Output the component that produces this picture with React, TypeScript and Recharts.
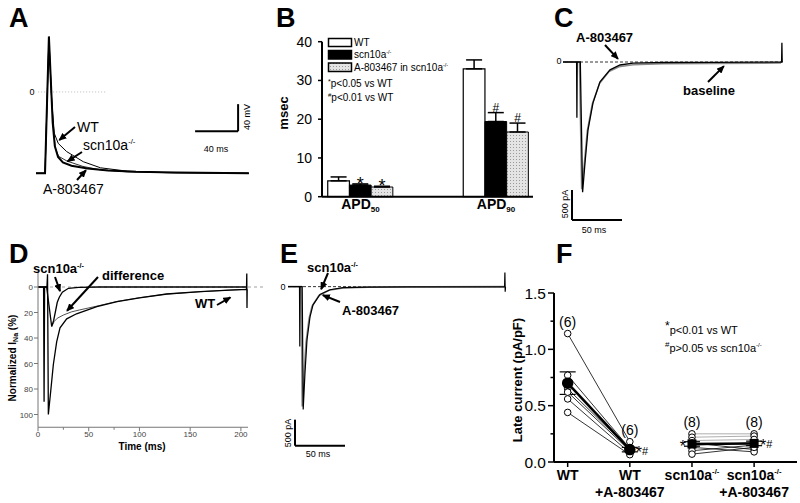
import React from "react";
import {
  LineChart,
  Line,
  XAxis,
  YAxis,
  ReferenceLine,
  ReferenceDot,
  BarChart,
  Bar,
  ErrorBar,
  LabelList,
  ComposedChart,
} from "recharts";

const FONT = "'Liberation Sans', Arial, Helvetica, sans-serif";

// A: action potentials (ms / mV)
const apWtTime = [0, 8.4, 12, 14.6, 17, 20.7, 28.5, 44, 60, 85, 120, 198];
const apWtMv = [-120, -120, 81, -12, -61, -76, -88, -103, -112, -117, -119, -120];
const apScnTime = [0, 8.4, 12, 14, 15.5, 17.5, 20.5, 25, 33, 48, 67, 93, 130, 198];
const apScnMv = [-120, -120, 82, 10, -45, -80, -96, -104, -109, -113, -116, -118, -119, -120];
const apA80Time = [0, 8.4, 12, 14.2, 16, 18, 21, 28.8, 43.7, 60, 85, 130, 198];
const apA80Mv = [-120, -120, 79, 0, -50, -83, -95, -102, -110, -115, -118, -119.5, -120];

// B: APD (msec)
const apdGroups = ["APD50", "APD90"];
const apdWt = [4.1, 33.0];
const apdWtSem = [1.0, 2.3];
const apdScn = [3.0, 19.4];
const apdScnSem = [0.3, 2.3];
const apdA80 = [2.5, 16.7];
const apdA80Sem = [0.2, 2.3];
const apdScnSig = ["*", "#"];
const apdA80Sig = ["*", "#"];

// C: WT late current (ms / pA)
const cA80Time = [0, 13.6, 13.9, 14.2, 17.3, 19.6, 22, 25, 30, 37, 47, 57, 70, 100, 150, 200, 218.6, 218.9, 219.2];
const cA80Pa = [0, 0, -930, 0, 0, -2170, -1680, -1130, -680, -330, -130, -50, -20, -8, -5, -3, 0, 320, 0];
const cBaseTime = [0, 16.5, 18.7, 21.3, 24.3, 29.3, 36.5, 46, 56, 70, 100, 150, 200, 218];
const cBasePa = [0, 0, -2120, -1700, -1150, -700, -360, -160, -80, -45, -30, -25, -20, -15];

// D: normalized INa (%)
const dWtTime = [0, 8.8, 9.4, 10.2, 12.5, 15.1, 18.4, 21.7, 28.3, 38, 58, 78, 100, 127, 160, 189, 205.5, 205.8, 206, 206.2];
const dWtPct = [0, 0, -10, 100, 82, 61, 43, 32, 25, 21, 15.4, 11.5, 8.5, 5.5, 3.7, 2.4, 1.8, -10.5, 16.5, 1.8];
const dScnTime = [0, 5.5, 6, 6.5, 8.5, 13.5, 15.5, 17, 19, 21, 24, 30, 40, 60, 100, 150, 205];
const dScnPct = [0, 0, 90, 0, 0, 31, 26, 20, 12, 8, 4, 1, 0.3, 0, 0, 0, 0];
const dDiffTime = [13.5, 16, 19, 25, 33, 41, 58, 78, 100, 127, 160, 189, 205.5];
const dDiffPct = [31, 27, 24.5, 22, 19.5, 18, 15, 11.3, 8.4, 5.5, 3.7, 2.4, 1.8];

// E: scn10a-/- late current (ms / pA)
const eScnTime = [0, 11.5, 11.8, 12.1, 14.2, 15.2, 17, 19, 22, 25, 32, 42, 55, 80, 120, 160, 200, 216.6, 216.9, 217.2, 217.5];
const eScnPa = [0, 0, -1150, 0, 0, -2360, -1650, -1020, -580, -350, -150, -60, -20, -8, -5, -5, -3, 0, 270, -96, 0];
const eA80Time = [0, 13.2, 14.2, 16, 18, 21, 24, 31, 41, 55, 80, 140, 216];
const eA80Pa = [0, 0, -2300, -1700, -1080, -620, -380, -170, -70, -25, -10, -5, 0];

// F: late current (pA/pF)
const lateCats = ["WT", "WT|+A-803467", "scn10a-/-", "scn10a-/-|+A-803467"];
const lateWt = [1.14, 0.77, 0.65, 0.62, 0.56, 0.44];
const lateWtA80 = [0.18, 0.12, 0.11, 0.1, 0.08, 0.065];
const lateScn = [0.25, 0.22, 0.19, 0.17, 0.15, 0.13, 0.1, 0.07];
const lateScnA80 = [0.25, 0.23, 0.2, 0.11, 0.17, 0.09, 0.15, 0.13];
const lateMean = [0.7, 0.11, 0.16, 0.165];
const lateSem = [0.1, 0.02, 0.02, 0.02];
const lateSig = ["", "*#", "*", "*#"];

const trace = (ts: number[], vs: number[]) => ts.map((t, i) => ({ t, v: vs[i] }));

function supText(s: string, size: number) {
  if (s.endsWith("-/-")) {
    return [
      <tspan key="a">{s.slice(0, -3)}</tspan>,
      <tspan key="b" fontSize={size * 0.55} dy={-size * 0.42}>
        -/-
      </tspan>,
    ];
  }
  return s;
}

const noMargin = { top: 0, right: 0, bottom: 0, left: 0 };

function PanelA() {
  return (
    <div style={{ position: "absolute", left: 36, top: 31 }}>
      <LineChart width={215} height={149} margin={noMargin}>
        <XAxis type="number" dataKey="t" domain={[0, 200]} hide />
        <YAxis type="number" domain={[-130, 90]} hide />
        <ReferenceLine segment={[{ x: 2, y: 0 }, { x: 66, y: 0 }]} stroke="#bbb" strokeDasharray="1 2" />
        <ReferenceLine segment={[{ x: 148, y: -58 }, { x: 188, y: -58 }]} stroke="#000" strokeWidth={2} />
        <ReferenceLine segment={[{ x: 188, y: -58 }, { x: 188, y: -18 }]} stroke="#000" strokeWidth={2} />
        <Line data={trace(apA80Time, apA80Mv)} dataKey="v" stroke="#333" strokeWidth={1} dot={false} isAnimationActive={false} />
        <Line data={trace(apWtTime, apWtMv)} dataKey="v" stroke="#000" strokeWidth={1} dot={false} isAnimationActive={false} />
        <Line data={trace(apScnTime, apScnMv)} dataKey="v" stroke="#000" strokeWidth={2} dot={false} isAnimationActive={false} />
      </LineChart>
    </div>
  );
}

const apdRows = apdGroups.map((g, i) => ({
  pos: i + 1,
  wt: apdWt[i],
  wtE: [0, apdWtSem[i]],
  scn: apdScn[i],
  scnE: [0, apdScnSem[i]],
  scnSig: apdScnSig[i],
  a80: apdA80[i],
  a80E: [0, apdA80Sem[i]],
  a80Sig: apdA80Sig[i],
}));

const B_PX_PER_MSEC = 155 / 40;

function ApdTick(props: any) {
  const { x, y, payload } = props;
  const label = apdGroups[payload.value - 1] || "";
  return (
    <text x={x} y={y + 12} textAnchor="middle" fontFamily={FONT} fontWeight="bold" fontSize={14} fill="#000">
      <tspan>{label.slice(0, 3)}</tspan>
      <tspan fontSize={8} dy={3}>
        {label.slice(3)}
      </tspan>
    </text>
  );
}

const sigAbove = (semKey: "scnE" | "a80E") => (p: any) => {
  const vb = p.viewBox || p;
  const v = p.value;
  if (!v) return null;
  const row = apdRows[p.index];
  const capY = vb.y - (row ? row[semKey][1] : 0) * B_PX_PER_MSEC;
  return (
    <text
      x={vb.x + vb.width / 2}
      y={capY + (v === "*" ? 6 : -1)}
      textAnchor="middle"
      fontFamily={FONT}
      fontSize={v === "*" ? 18 : 12}
      fill="#000"
    >
      {v}
    </text>
  );
};

function PanelB() {
  return (
    <div style={{ position: "absolute", left: 270, top: 30 }}>
      <BarChart width={270} height={200} data={apdRows} margin={{ top: 11.7, right: 7, bottom: 0, left: 0 }} barGap={0}>
        <defs>
          <pattern id="bDots" width="3" height="3" patternUnits="userSpaceOnUse">
            <rect width="3" height="3" fill="#e4e4e4" />
            <rect width="1" height="1" fill="#9a9a9a" />
          </pattern>
        </defs>
        <XAxis
          type="number"
          dataKey="pos"
          domain={[0.716, 2.273]}
          ticks={[1, 2]}
          height={33.3}
          allowDataOverflow
          axisLine={{ stroke: "#000", strokeWidth: 2 }}
          tickLine={false}
          tickSize={0}
          tickMargin={0}
          tick={<ApdTick />}
        />
        <YAxis
          type="number"
          domain={[0, 40]}
          ticks={[0, 10, 20, 30, 40]}
          width={52}
          axisLine={{ stroke: "#000", strokeWidth: 2 }}
          tickLine={{ stroke: "#000", strokeWidth: 1.5 }}
          tickSize={4}
          tickMargin={6}
          tick={{ fontSize: 14, fill: "#000", fontFamily: FONT }}
        />
        <Bar dataKey="wt" fill="#fff" stroke="#000" strokeWidth={1.2} barSize={21.7} isAnimationActive={false}>
          <ErrorBar dataKey="wtE" width={8} stroke="#000" strokeWidth={1.5} direction="y" />
        </Bar>
        <Bar dataKey="scn" fill="#000" stroke="#000" strokeWidth={1} barSize={21.7} isAnimationActive={false}>
          <ErrorBar dataKey="scnE" width={8} stroke="#000" strokeWidth={1.5} direction="y" />
          <LabelList dataKey="scnSig" content={sigAbove("scnE")} />
        </Bar>
        <Bar dataKey="a80" fill="url(#bDots)" stroke="#000" strokeWidth={1} barSize={21.7} isAnimationActive={false}>
          <ErrorBar dataKey="a80E" width={8} stroke="#000" strokeWidth={1.5} direction="y" />
          <LabelList dataKey="a80Sig" content={sigAbove("a80E")} />
        </Bar>
      </BarChart>
    </div>
  );
}

function PanelC() {
  return (
    <div style={{ position: "absolute", left: 563, top: 38 }}>
      <LineChart width={225} height={186} margin={noMargin}>
        <XAxis type="number" dataKey="t" domain={[0, 225]} hide />
        <YAxis type="number" domain={[-2700, 400]} hide />
        <ReferenceLine segment={[{ x: 2, y: 0 }, { x: 222, y: 0 }]} stroke="#000" strokeWidth={0.8} strokeDasharray="3 2" />
        <ReferenceLine segment={[{ x: 9, y: -2633 }, { x: 59, y: -2633 }]} stroke="#000" strokeWidth={2} />
        <ReferenceLine segment={[{ x: 9, y: -2633 }, { x: 9, y: -2133 }]} stroke="#000" strokeWidth={2} />
        <Line data={trace(cBaseTime, cBasePa)} dataKey="v" stroke="#8a8a8a" strokeWidth={1.6} dot={false} isAnimationActive={false} />
        <Line data={trace(cA80Time, cA80Pa)} dataKey="v" stroke="#000" strokeWidth={1.3} dot={false} isAnimationActive={false} />
      </LineChart>
    </div>
  );
}

function DYTick({ x, y, payload }: any) {
  const v = payload.value;
  const major = v % 20 === 0;
  return (
    <g>
      <line x1={x} x2={x - (major ? 4 : 2.5)} y1={y} y2={y} stroke="#777" strokeWidth={1} />
      {major && (
        <text x={x - 5} y={y + 3} textAnchor="end" fontSize={8} fill="#444" fontFamily={FONT}>
          {v}
        </text>
      )}
    </g>
  );
}

function DXTick({ x, y, payload }: any) {
  const v = payload.value;
  const major = v % 50 === 0;
  return (
    <g>
      <line x1={x} x2={x} y1={y} y2={y + (major ? 4 : 2.5)} stroke="#777" strokeWidth={1} />
      {major && (
        <text x={x} y={y + 10} textAnchor="middle" fontSize={8} fill="#444" fontFamily={FONT}>
          {v}
        </text>
      )}
    </g>
  );
}

function PanelD() {
  return (
    <div style={{ position: "absolute", left: 0, top: 265 }}>
      <LineChart width={270} height={200} margin={{ top: 6.7, right: 22, bottom: 0, left: 0 }}>
        <XAxis
          type="number"
          dataKey="t"
          domain={[0, 207]}
          ticks={[0, 25, 50, 75, 100, 125, 150, 175, 200]}
          height={37.75}
          axisLine={{ stroke: "#777" }}
          tickLine={false}
          tickSize={0}
          tickMargin={0}
          tick={<DXTick />}
        />
        <YAxis
          type="number"
          reversed
          domain={[-12, 110]}
          ticks={[0, 10, 20, 30, 40, 50, 60, 70, 80, 90, 100]}
          width={38}
          axisLine={{ stroke: "#777" }}
          tickLine={false}
          tickSize={0}
          tickMargin={0}
          tick={<DYTick />}
        />
        <ReferenceLine
          segment={[{ x: 0, y: 0 }, { x: 224, y: 0 }]}
          ifOverflow="visible"
          stroke="#888"
          strokeWidth={0.8}
          strokeDasharray="3 3"
        />
        <Line data={trace(dDiffTime, dDiffPct)} dataKey="v" stroke="#222" strokeWidth={0.8} dot={false} isAnimationActive={false} />
        <Line data={trace(dScnTime, dScnPct)} dataKey="v" stroke="#000" strokeWidth={1.3} dot={false} isAnimationActive={false} />
        <Line data={trace(dWtTime, dWtPct)} dataKey="v" stroke="#000" strokeWidth={1.3} dot={false} isAnimationActive={false} />
      </LineChart>
    </div>
  );
}

function PanelE() {
  return (
    <div style={{ position: "absolute", left: 288, top: 271.4 }}>
      <LineChart width={220} height={177.1} margin={noMargin}>
        <XAxis type="number" dataKey="t" domain={[0, 220]} hide />
        <YAxis type="number" domain={[-3100, 300]} hide />
        <ReferenceLine segment={[{ x: 0, y: 0 }, { x: 217, y: 0 }]} stroke="#000" strokeWidth={0.8} strokeDasharray="3 2" />
        <ReferenceLine segment={[{ x: 7, y: -3054 }, { x: 57, y: -3054 }]} stroke="#000" strokeWidth={2} />
        <ReferenceLine segment={[{ x: 7, y: -3054 }, { x: 7, y: -2554 }]} stroke="#000" strokeWidth={2} />
        <Line data={trace(eA80Time, eA80Pa)} dataKey="v" stroke="#8a8a8a" strokeWidth={1.6} dot={false} isAnimationActive={false} />
        <Line data={trace(eScnTime, eScnPa)} dataKey="v" stroke="#000" strokeWidth={1.2} dot={false} isAnimationActive={false} />
      </LineChart>
    </div>
  );
}

function FYTick({ x, y, payload }: any) {
  const v = payload.value;
  const major = Math.abs(v * 2 - Math.round(v * 2)) < 1e-6;
  return (
    <g>
      <line x1={x} x2={x - (major ? 6 : 3.5)} y1={y} y2={y} stroke="#000" strokeWidth={1.5} />
      {major && (
        <text x={x - 8} y={y + 5.5} textAnchor="end" fontSize={15.5} fill="#000" fontFamily={FONT}>
          {v.toFixed(1)}
        </text>
      )}
    </g>
  );
}

function FXTick({ x, y, payload }: any) {
  const lines = (lateCats[payload.value - 1] || "").split("|");
  return (
    <g>
      <line x1={x} x2={x} y1={y} y2={y + 5} stroke="#000" strokeWidth={1.5} />
      {lines.map((ln, i) => (
        <text key={i} x={x} y={y + 18 + i * 17} textAnchor="middle" fontSize={14} fontWeight="bold" fill="#000" fontFamily={FONT}>
          {supText(ln, 14)}
        </text>
      ))}
    </g>
  );
}

const openDot = { r: 3.3, fill: "#fff", stroke: "#000", strokeWidth: 1 };

const squareDot = (p: any) => (
  <rect key={`sq-${p.index}-${p.cx}`} x={p.cx - 4.5} y={p.cy - 4.5} width={9} height={9} fill="#000" />
);

const sigSide = (p: any) => {
  const vb = p.viewBox || p;
  const v = p.value;
  if (!v) return null;
  const left = p.index === 0;
  return (
    <text
      x={left ? vb.x - 6 : vb.x + 6}
      y={vb.y + 8}
      textAnchor={left ? "end" : "start"}
      fontFamily={FONT}
      fontSize={16}
      fill="#000"
    >
      <tspan>*</tspan>
      {v.length > 1 && (
        <tspan fontSize={11} dy={-3}>
          #
        </tspan>
      )}
    </text>
  );
};

function PanelF() {
  const meanPts = (a: number, b: number) => [
    { x: a, y: lateMean[a - 1], e: lateSem[a - 1], s: lateSig[a - 1] },
    { x: b, y: lateMean[b - 1], e: lateSem[b - 1], s: lateSig[b - 1] },
  ];
  const countLabel = (n: number) => ({
    value: `(${n})`,
    position: "top" as const,
    offset: 7,
    fontSize: 14,
    fill: "#000",
    fontFamily: FONT,
  });
  return (
    <div style={{ position: "absolute", left: 500, top: 280 }}>
      <ComposedChart width={300} height={220} margin={{ top: 13, right: 3, bottom: 0, left: 0 }}>
        <XAxis
          type="number"
          dataKey="x"
          domain={[0.78, 4.69]}
          ticks={[1, 2, 3, 4]}
          height={38}
          allowDataOverflow
          axisLine={{ stroke: "#000", strokeWidth: 2 }}
          tickLine={false}
          tickSize={0}
          tickMargin={0}
          tick={<FXTick />}
        />
        <YAxis
          type="number"
          domain={[0, 1.5]}
          ticks={[0, 0.25, 0.5, 0.75, 1, 1.25, 1.5]}
          width={54}
          axisLine={{ stroke: "#000", strokeWidth: 2 }}
          tickLine={false}
          tickSize={0}
          tickMargin={0}
          tick={<FYTick />}
        />
        {lateWt.map((a, i) => (
          <Line
            key={`wt${i}`}
            data={[{ x: 1, y: a }, { x: 2, y: lateWtA80[i] }]}
            dataKey="y"
            stroke="#000"
            strokeWidth={0.8}
            dot={openDot}
            isAnimationActive={false}
          />
        ))}
        {lateScn.map((a, i) => (
          <Line
            key={`scn${i}`}
            data={[{ x: 3, y: a }, { x: 4, y: lateScnA80[i] }]}
            dataKey="y"
            stroke={i < 3 ? "#999" : "#000"}
            strokeWidth={0.8}
            dot={openDot}
            isAnimationActive={false}
          />
        ))}
        <Line data={meanPts(1, 2)} dataKey="y" stroke="#000" strokeWidth={2.5} dot={{ r: 4.5, fill: "#000", stroke: "#000" }} isAnimationActive={false}>
          <ErrorBar dataKey="e" width={8} stroke="#000" strokeWidth={1.2} direction="y" />
          <LabelList dataKey="s" content={sigSide} />
        </Line>
        <Line data={meanPts(3, 4)} dataKey="y" stroke="#000" strokeWidth={2.5} dot={squareDot} isAnimationActive={false}>
          <ErrorBar dataKey="e" width={8} stroke="#000" strokeWidth={1.2} direction="y" />
          <LabelList dataKey="s" content={sigSide} />
        </Line>
        <ReferenceDot x={1} y={Math.max(...lateWt)} r={0} fill="none" stroke="none" label={countLabel(lateWt.length)} />
        <ReferenceDot x={2} y={Math.max(...lateWtA80)} r={0} fill="none" stroke="none" label={countLabel(lateWtA80.length)} />
        <ReferenceDot x={3} y={Math.max(...lateScn)} r={0} fill="none" stroke="none" label={countLabel(lateScn.length)} />
        <ReferenceDot x={4} y={Math.max(...lateScnA80)} r={0} fill="none" stroke="none" label={countLabel(lateScnA80.length)} />
      </ComposedChart>
    </div>
  );
}

// annotation arrows: [fromX, fromY, toX, toY]
const arrows: number[][] = [
  [75, 127, 57, 142],
  [82, 152, 65, 163],
  [77, 180, 88, 168],
  [605, 45, 620, 61],
  [708, 82, 726, 64],
  [55, 277, 61, 294],
  [98, 277, 65, 313],
  [217, 305, 233, 296],
  [328, 273, 320, 292],
  [340, 302, 320, 294],
];

function Overlay() {
  const t = (extra: any) => ({ fontFamily: FONT, fill: "#000", ...extra });
  return (
    <svg width={800} height={503} style={{ position: "absolute", left: 0, top: 0, pointerEvents: "none" }}>
      <defs>
        <marker id="ah" markerWidth="8" markerHeight="7" refX="7" refY="3.5" orient="auto" markerUnits="userSpaceOnUse">
          <path d="M0,0 L8,3.5 L0,7 z" fill="#000" />
        </marker>
        <pattern id="lgDots" width="3" height="3" patternUnits="userSpaceOnUse">
          <rect width="3" height="3" fill="#e4e4e4" />
          <rect width="1" height="1" fill="#9a9a9a" />
        </pattern>
      </defs>

      {/* panel letters */}
      {[
        ["A", 9, 27],
        ["B", 276, 27],
        ["C", 554, 27],
        ["D", 9, 263],
        ["E", 280, 263],
        ["F", 556, 263],
      ].map(([s, x, y]) => (
        <text key={s as string} x={x as number} y={y as number} {...t({ fontSize: 27, fontWeight: "bold" })}>
          {s}
        </text>
      ))}

      {arrows.map(([x1, y1, x2, y2], i) => {
        const dx = x2 - x1;
        const dy = y2 - y1;
        const len = Math.hypot(dx, dy);
        const ex = x2 - (dx / len) * 3;
        const ey = y2 - (dy / len) * 3;
        return <line key={i} x1={x1} y1={y1} x2={ex} y2={ey} stroke="#000" strokeWidth={2} markerEnd="url(#ah)" />;
      })}

      {/* A */}
      <text x={32} y={95} textAnchor="middle" {...t({ fontSize: 9 })}>0</text>
      <text x={77} y={132} {...t({ fontSize: 14 })}>WT</text>
      <text x={83} y={150} {...t({ fontSize: 14 })}>{supText("scn10a-/-", 14)}</text>
      <text x={43} y={194} {...t({ fontSize: 14 })}>A-803467</text>
      <text x={250} y={117} textAnchor="middle" transform="rotate(-90 250 117)" {...t({ fontSize: 9 })}>40 mV</text>
      <text x={216} y={151.5} textAnchor="middle" {...t({ fontSize: 9 })}>40 ms</text>

      {/* B */}
      <text x={288} y={113} textAnchor="middle" transform="rotate(-90 288 113)" {...t({ fontSize: 13, fontWeight: "bold" })}>msec</text>
      <rect x={328.5} y={38.5} width={23} height={8} fill="#fff" stroke="#000" strokeWidth={1.5} />
      <rect x={328.5} y={50.5} width={23} height={8.5} fill="#000" stroke="#000" strokeWidth={1.5} />
      <rect x={328.5} y={63} width={23} height={8.5} fill="url(#lgDots)" stroke="#000" strokeWidth={1.5} />
      <text x={354} y={46} {...t({ fontSize: 10 })}>WT</text>
      <text x={354} y={58} {...t({ fontSize: 10 })}>{supText("scn10a-/-", 10)}</text>
      <text x={354} y={71} {...t({ fontSize: 10 })}>A-803467 in {supText("scn10a-/-", 10)}</text>
      <text x={328} y={87} {...t({ fontSize: 10 })}>
        <tspan fontSize={7} dy={-3}>*</tspan>
        <tspan dy={3}>p&lt;0.05 vs WT</tspan>
      </text>
      <text x={328} y={101} {...t({ fontSize: 10 })}>
        <tspan fontSize={6} dy={-4}>#</tspan>
        <tspan dy={4}>p&lt;0.01 vs WT</tspan>
      </text>

      {/* C */}
      <text x={559} y={64} textAnchor="middle" {...t({ fontSize: 9 })}>0</text>
      <text x={576} y={42} {...t({ fontSize: 13, fontWeight: "bold" })}>A-803467</text>
      <text x={683} y={95} {...t({ fontSize: 13, fontWeight: "bold" })}>baseline</text>
      <text x={568} y={204} textAnchor="middle" transform="rotate(-90 568 204)" {...t({ fontSize: 9 })}>500 pA</text>
      <text x={594} y={233} textAnchor="middle" {...t({ fontSize: 9 })}>50 ms</text>

      {/* D */}
      <text x={33} y={273} {...t({ fontSize: 13, fontWeight: "bold" })}>{supText("scn10a-/-", 13)}</text>
      <text x={102} y={280} {...t({ fontSize: 13, fontWeight: "bold" })}>difference</text>
      <text x={195} y={308} {...t({ fontSize: 13, fontWeight: "bold" })}>WT</text>
      <text x={142} y={450} textAnchor="middle" {...t({ fontSize: 10, fontWeight: "bold" })}>Time (ms)</text>
      <text x={16} y={358} textAnchor="middle" transform="rotate(-90 16 358)" {...t({ fontSize: 10, fontWeight: "bold" })}>
        <tspan>Normalized I</tspan>
        <tspan fontSize={7} dy={2}>Na</tspan>
        <tspan dy={-2}> (%)</tspan>
      </text>

      {/* E */}
      <text x={283} y={290} textAnchor="middle" {...t({ fontSize: 9 })}>0</text>
      <text x={307} y={272} {...t({ fontSize: 13, fontWeight: "bold" })}>{supText("scn10a-/-", 13)}</text>
      <text x={342} y={315} {...t({ fontSize: 13, fontWeight: "bold" })}>A-803467</text>
      <text x={291} y={433} textAnchor="middle" transform="rotate(-90 291 433)" {...t({ fontSize: 9 })}>500 pA</text>
      <text x={318} y={457} textAnchor="middle" {...t({ fontSize: 9 })}>50 ms</text>

      {/* F */}
      <text x={522} y={380} textAnchor="middle" transform="rotate(-90 522 380)" {...t({ fontSize: 13, fontWeight: "bold" })}>
        Late current (pA/pF)
      </text>
      <text x={665} y={334} {...t({ fontSize: 11 })}>
        <tspan fontSize={12} dy={-4}>*</tspan>
        <tspan dy={4}>p&lt;0.01 vs WT</tspan>
      </text>
      <text x={665} y={352} {...t({ fontSize: 11 })}>
        <tspan fontSize={8} dy={-5}>#</tspan>
        <tspan dy={5}>p&gt;0.05 vs </tspan>
        {supText("scn10a-/-", 11)}
      </text>
    </svg>
  );
}

export default function App() {
  return (
    <div
      style={{
        position: "absolute",
        left: 0,
        top: 0,
        width: 800,
        height: 503,
        background: "#fff",
        overflow: "hidden",
        fontFamily: FONT,
      }}
    >
      <PanelA />
      <PanelB />
      <PanelC />
      <PanelD />
      <PanelE />
      <PanelF />
      <Overlay />
    </div>
  );
}
